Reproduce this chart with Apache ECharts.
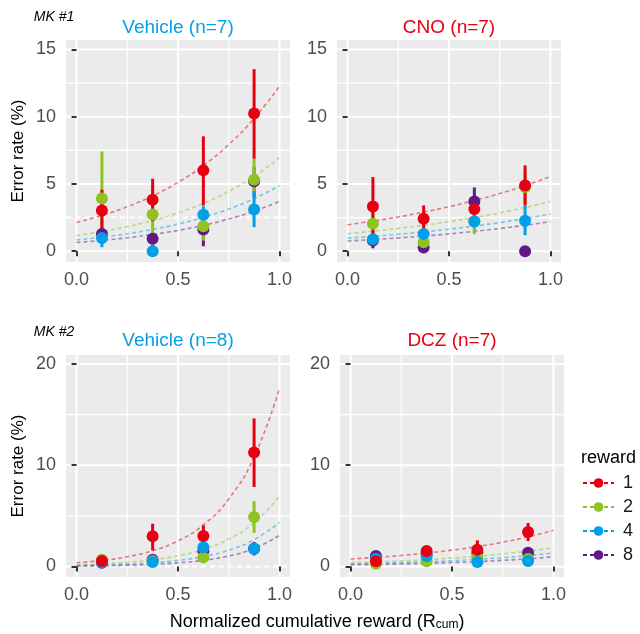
<!DOCTYPE html>
<html>
<head>
<meta charset="utf-8">
<script src="https://cdn.jsdelivr.net/npm/echarts@6/dist/echarts.min.js"></script>
<style>html,body{margin:0;padding:0;background:#fff}#c{width:640px;height:634px}</style>
</head>
<body>
<div id="c"></div>
<script>
// ---- data ----
const rewards = ['1', '2', '4', '8'];
const colors = ['#E60012', '#8FC31F', '#00A0E9', '#601986'];
const binX = [0.125, 0.375, 0.625, 0.875];
const fitX = [0, 0.125, 0.25, 0.375, 0.5, 0.625, 0.75, 0.875, 1];
const xTicks = [0, 0.5, 1];
const xMinor = [0.25, 0.75];
const yTicksTop = [0, 5, 10, 15];
const yMinorTop = [2.5, 7.5, 12.5];
const yTicksBot = [0, 10, 20];
const yMinorBot = [5, 15];
const refLines = [2.5, null, 0, null];
const panelTitles = ['Vehicle (n=7)', 'CNO (n=7)', 'Vehicle (n=8)', 'DCZ (n=7)'];

// MK#1 Vehicle  (rows: reward 1,2,4,8)
const veh1Mean = [[3.03, 3.82, 6.01, 10.23], [3.92, 2.73, 1.86, 5.31], [0.99, 0.0, 2.71, 3.10], [1.29, 0.92, 1.61, 5.20]];
const veh1Lo   = [[1.40, 2.23, 3.40, 6.88], [1.60, 0.45, 0.79, 4.45], [0.30, 0.0, 1.70, 1.79], [0.90, 0.40, 0.37, 4.00]];
const veh1Hi   = [[4.57, 5.39, 8.54, 13.53], [7.42, 4.90, 2.70, 6.88], [1.70, 0.0, 3.35, 4.45], [1.70, 1.40, 2.90, 6.30]];
const veh1Fit  = [[2.14, 2.66, 3.31, 4.12, 5.12, 6.37, 7.93, 9.86, 12.27],
                  [1.17, 1.46, 1.83, 2.28, 2.85, 3.56, 4.45, 5.56, 6.95],
                  [0.84, 1.05, 1.30, 1.62, 2.02, 2.52, 3.14, 3.91, 4.87],
                  [0.65, 0.81, 1.00, 1.25, 1.55, 1.93, 2.40, 2.98, 3.70]];
// MK#1 CNO
const cnoMean = [[3.33, 2.41, 3.13, 4.89], [2.04, 0.67, 2.21, 4.77], [0.89, 1.29, 2.21, 2.26], [0.80, 0.27, 3.70, 0.0]];
const cnoLo   = [[1.10, 1.54, 2.30, 3.40], [1.20, 0.40, 1.27, 3.50], [0.40, 1.00, 1.35, 1.19], [0.22, 0.10, 2.80, 0.0]];
const cnoHi   = [[5.51, 3.40, 4.00, 6.38], [3.00, 1.00, 3.00, 6.00], [1.50, 1.60, 2.90, 3.40], [1.40, 0.50, 4.74, 0.0]];
const cnoFit  = [[1.97, 2.24, 2.55, 2.91, 3.31, 3.77, 4.29, 4.88, 5.56],
                 [1.31, 1.49, 1.70, 1.93, 2.20, 2.50, 2.85, 3.25, 3.70],
                 [0.97, 1.11, 1.26, 1.44, 1.64, 1.87, 2.13, 2.43, 2.78],
                 [0.76, 0.87, 0.99, 1.13, 1.29, 1.48, 1.69, 1.93, 2.20]];
// MK#2 Vehicle
const veh2Mean = [[0.53, 2.97, 3.00, 11.25], [0.66, 0.53, 0.89, 4.88], [0.43, 0.43, 1.88, 1.75], [0.36, 0.66, 1.52, 1.75]];
const veh2Lo   = [[0.30, 1.58, 2.30, 7.85], [0.40, 0.35, 0.60, 3.30], [0.25, 0.30, 1.40, 1.40], [0.20, 0.45, 1.10, 1.09]];
const veh2Hi   = [[0.80, 4.22, 4.06, 14.62], [0.90, 0.75, 1.20, 6.44], [0.60, 0.60, 2.40, 2.10], [0.55, 0.90, 2.00, 2.41]];
const veh2Fit  = [[0.36, 0.59, 0.95, 1.55, 2.52, 4.10, 6.66, 10.83, 17.62],
                  [0.16, 0.26, 0.41, 0.66, 1.05, 1.69, 2.70, 4.33, 6.93],
                  [0.08, 0.13, 0.22, 0.36, 0.59, 0.97, 1.60, 2.64, 4.35],
                  [0.04, 0.07, 0.12, 0.20, 0.35, 0.60, 1.03, 1.78, 3.07]];
// MK#2 DCZ
const dczMean = [[0.50, 1.52, 1.65, 3.40], [0.26, 0.50, 0.92, 0.73], [0.76, 0.99, 0.43, 0.53], [1.02, 1.25, 1.35, 1.35]];
const dczLo   = [[0.30, 1.20, 1.00, 2.51], [0.10, 0.35, 0.70, 0.50], [0.55, 0.80, 0.30, 0.35], [0.80, 1.05, 1.15, 1.10]];
const dczHi   = [[0.70, 1.85, 2.57, 4.29], [0.40, 0.65, 1.15, 0.95], [0.95, 1.20, 0.60, 0.70], [1.25, 1.45, 1.55, 1.60]];
const dczFit  = [[0.73, 0.89, 1.08, 1.32, 1.61, 1.96, 2.39, 2.92, 3.56],
                 [0.36, 0.44, 0.54, 0.67, 0.82, 1.00, 1.23, 1.51, 1.85],
                 [0.24, 0.30, 0.37, 0.46, 0.56, 0.70, 0.86, 1.07, 1.32],
                 [0.15, 0.19, 0.24, 0.30, 0.38, 0.47, 0.60, 0.75, 0.95]];

// ---- layout ----
const FONT = '"Liberation Sans", Arial, Helvetica, sans-serif';
const grids = [
  {left: 66, top: 40, width: 224, height: 222},
  {left: 337, top: 40, width: 224, height: 222},
  {left: 66, top: 355, width: 224, height: 222},
  {left: 340, top: 355, width: 224, height: 222}
];
const yRanges = [[-0.8, 15.7], [-0.8, 15.7], [-1.05, 20.9], [-1.05, 20.9]];
const panels = [
  {mean: veh1Mean, lo: veh1Lo, hi: veh1Hi, fit: veh1Fit, yt: yTicksTop, ym: yMinorTop},
  {mean: cnoMean, lo: cnoLo, hi: cnoHi, fit: cnoFit, yt: yTicksTop, ym: yMinorTop},
  {mean: veh2Mean, lo: veh2Lo, hi: veh2Hi, fit: veh2Fit, yt: yTicksBot, ym: yMinorBot},
  {mean: dczMean, lo: dczLo, hi: dczHi, fit: dczFit, yt: yTicksBot, ym: yMinorBot}
];

const xAxes = [], yAxes = [], series = [];
panels.forEach((p, i) => {
  xAxes.push({
    type: 'value', gridIndex: i, min: -0.052, max: 1.052,
    axisLine: {show: false}, splitLine: {show: false},
    axisTick: {show: true, length: 5, customValues: xTicks, lineStyle: {color: '#333', width: 2}},
    axisLabel: {customValues: xTicks, formatter: v => v.toFixed(1), color: '#4D4D4D', fontSize: 18, fontFamily: FONT, margin: 9}
  });
  yAxes.push({
    type: 'value', gridIndex: i, min: yRanges[i][0], max: yRanges[i][1],
    axisLine: {show: false}, splitLine: {show: false},
    axisTick: {show: true, length: 5, customValues: p.yt, lineStyle: {color: '#333', width: 2}},
    axisLabel: {customValues: p.yt, formatter: v => String(v), color: '#4D4D4D', fontSize: 18, fontFamily: FONT, margin: 10}
  });
  // grid lines: [value, width, dashed]
  const vLines = xTicks.map(v => [v, 2, 0]).concat(xMinor.map(v => [v, 1.2, 0]));
  const hLines = p.yt.map(v => [v, 2, 0]).concat(p.ym.map(v => [v, 1.2, 0]))
    .filter(h => h[0] !== refLines[i]);
  if (refLines[i] !== null) hLines.push([refLines[i], 2, 1]);
  series.push({
    type: 'custom', xAxisIndex: i, yAxisIndex: i, z: 0, silent: true, clip: false,
    data: vLines, encode: {x: 0},
    renderItem: (params, api) => {
      const cs = params.coordSys;
      const x = api.coord([api.value(0), 0])[0];
      return {type: 'line', shape: {x1: x, y1: cs.y, x2: x, y2: cs.y + cs.height},
              style: {stroke: '#fff', lineWidth: api.value(1)}};
    }
  });
  series.push({
    type: 'custom', xAxisIndex: i, yAxisIndex: i, z: 0, silent: true, clip: false,
    data: hLines.map(h => [0.5, h[0], h[1], h[2]]), encode: {x: 0, y: 1},
    renderItem: (params, api) => {
      const cs = params.coordSys;
      const y = api.coord([0, api.value(1)])[1];
      return {type: 'line', shape: {x1: cs.x, y1: y, x2: cs.x + cs.width, y2: y},
              style: {stroke: '#fff', lineWidth: api.value(2), lineDash: api.value(3) ? [5, 4] : null}};
    }
  });
  // fitted curves
  rewards.forEach((r, k) => {
    series.push({
      type: 'line', name: r, xAxisIndex: i, yAxisIndex: i, z: 1, silent: true,
      data: fitX.map((x, j) => [x, p.fit[k][j]]),
      smooth: true, symbol: 'circle', symbolSize: 10, showSymbol: false,
      itemStyle: {color: colors[k]},
      lineStyle: {color: colors[k], width: 1.6, type: [4, 3], opacity: 0.5}
    });
  });
  // error bars (drawn purple, blue, green, red so red is on top)
  [3, 2, 1, 0].forEach(k => {
    series.push({
      type: 'custom', xAxisIndex: i, yAxisIndex: i, z: 2, silent: true,
      data: binX.map((x, j) => [x, p.lo[k][j], p.hi[k][j]]),
      renderItem: (params, api) => {
        const a = api.coord([api.value(0), api.value(1)]);
        const b = api.coord([api.value(0), api.value(2)]);
        return {type: 'line', shape: {x1: a[0], y1: a[1], x2: b[0], y2: b[1]}, style: {stroke: colors[k], lineWidth: 3}};
      }
    });
  });
  // points
  [3, 1, 2, 0].forEach(k => {
    series.push({
      type: 'scatter', xAxisIndex: i, yAxisIndex: i, z: 3, silent: true,
      data: binX.map((x, j) => [x, p.mean[k][j]]),
      symbolSize: 12, itemStyle: {color: colors[k], opacity: 1}
    });
  });
});

function txt(x, y, text, size, color, extra) {
  return {type: 'text', x: x, y: y, silent: true,
    style: Object.assign({text: text, fill: color, font: size + 'px ' + FONT, align: 'center', verticalAlign: 'middle'}, extra || {})};
}
const gx = grids.map(g => g.left + g.width / 2);
const graphics = [
  txt(54, 17, 'MK #1', 14, '#000', {font: 'italic 14px ' + FONT}),
  txt(54, 332, 'MK #2', 14, '#000', {font: 'italic 14px ' + FONT}),
  txt(gx[0], 28, panelTitles[0], 19, '#00A0E9'),
  txt(gx[1], 28, panelTitles[1], 19, '#E60012'),
  txt(gx[2], 341, panelTitles[2], 19, '#00A0E9'),
  txt(gx[3], 341, panelTitles[3], 19, '#E60012'),
  Object.assign(txt(18, 151, 'Error rate (%)', 17, '#000'), {rotation: Math.PI / 2}),
  Object.assign(txt(18, 466, 'Error rate (%)', 17, '#000'), {rotation: Math.PI / 2}),
  {type: 'text', x: 317, y: 622, silent: true, style: {
    text: '{a|Normalized cumulative reward (R}{b|cum}{a|)}', align: 'center', verticalAlign: 'middle',
    rich: {a: {fontSize: 18, fontFamily: FONT, fill: '#000', color: '#000'},
           b: {fontSize: 12, fontFamily: FONT, fill: '#000', color: '#000', verticalAlign: 'bottom', padding: [6, 0, 0, 0]}}
  }},
  txt(581, 458, 'reward', 18, '#000', {align: 'left'})
];

const chart = echarts.init(document.getElementById('c'), null, {renderer: 'canvas'});
chart.setOption({
  animation: false,
  backgroundColor: '#fff',
  grid: grids.map(g => Object.assign({show: true, backgroundColor: '#EBEBEB', borderWidth: 0}, g)),
  xAxis: xAxes,
  yAxis: yAxes,
  legend: {
    data: rewards, orient: 'vertical', left: 577, top: 469, itemWidth: 31, itemHeight: 12, itemGap: 6,
    selectedMode: false, textStyle: {fontSize: 18, fontFamily: FONT, color: '#1A1A1A', padding: [0, 0, 0, 4]},
    lineStyle: {opacity: 1}
  },
  series: series,
  graphic: graphics
});
</script>
</body>
</html>
